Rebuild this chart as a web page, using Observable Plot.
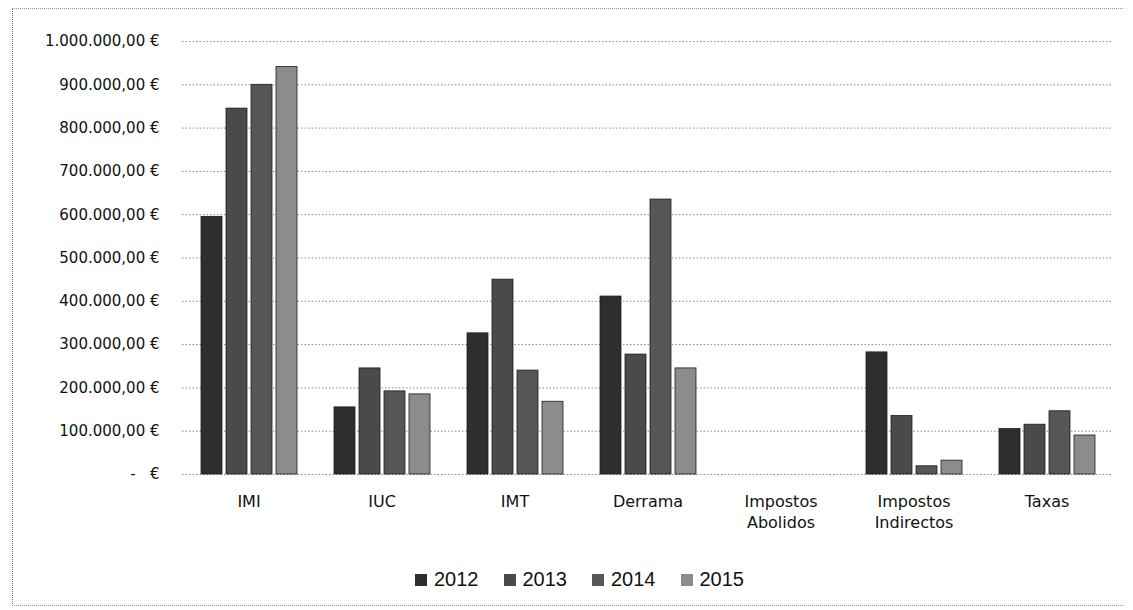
<!DOCTYPE html>
<html><head><meta charset="utf-8">
<script src="https://cdn.jsdelivr.net/npm/d3@7"></script>
<script src="https://cdn.jsdelivr.net/npm/@observablehq/plot@0.6"></script>
<style>
body{margin:0;background:#fff;width:1133px;height:610px;overflow:hidden;position:relative;}
#frame{position:absolute;left:12px;top:8px;width:1110px;height:596px;border-left:1px dotted #777;border-top:1px dotted #999;border-bottom:1px dotted #999;}
#chart{position:absolute;left:0;top:0;width:1133px;}
#legend{position:absolute;top:563px;left:415px;}
.lg-swatch{margin-right:25px !important;}
.lg-swatch > svg{margin-right:7px !important;}
</style></head><body>
<div id="frame"></div>
<div id="chart"></div>
<div id="legend"></div>
<script>
const categories = ["IMI", "IUC", "IMT", "Derrama", "Impostos Abolidos", "Impostos Indirectos", "Taxas"];
const years = ["2012", "2013", "2014", "2015"];
const v2012 = [595000, 155000, 326000, 411000, 0, 282000, 105000];
const v2013 = [845000, 245000, 450000, 277000, 0, 135000, 115000];
const v2014 = [900000, 192000, 240000, 635000, 0, 19000, 146000];
const v2015 = [941000, 185000, 168000, 245000, 0, 32000, 90000];
const yTicks = [0, 100000, 200000, 300000, 400000, 500000, 600000, 700000, 800000, 900000, 1000000];

const series = [v2012, v2013, v2014, v2015];
const colors = ["#2e2e2e", "#4a4a4a", "#565656", "#8c8c8c"];
const data = categories.flatMap((c, i) => years.map((y, j) => ({category: c, year: y, value: series[j][i]})));

const loc = d3.formatLocale({decimal: ",", thousands: ".", grouping: [3], currency: ["", " €"]});
const fmt = loc.format(",.2f");
const yFormat = d => d === 0 ? "-   €" : fmt(d) + " €";

const plot = Plot.plot({
  width: 1133, height: 545,
  marginTop: 41, marginBottom: 71, marginLeft: 180, marginRight: 18,
  style: {fontFamily: "DejaVu Sans", background: "transparent", color: "#111"},
  fx: {domain: categories, padding: 0, label: null, axis: null},
  x: {domain: years, paddingInner: 0.16, paddingOuter: 0.74, axis: null},
  y: {domain: [0, 1000000], label: null, axis: null},
  color: {domain: years, range: colors},
  marks: [
    Plot.ruleY(yTicks, {stroke: "#8a8a8a", strokeDasharray: "1.5,2", strokeWidth: 1}),
    Plot.barY(data, {fx: "category", x: "year", y: "value", fill: "year", stroke: "#1c1c1c", strokeWidth: 0.8}),
    Plot.axisY(yTicks, {tickSize: 0, tickPadding: 23, tickFormat: yFormat, fontSize: 15, label: null}),
    Plot.axisFx({anchor: "bottom", tickSize: 0, tickPadding: 18, tickFormat: d => d.replace(" ", "\n"), fontSize: 16, lineHeight: 1.3, label: null})
  ]
});
document.getElementById("chart").appendChild(plot);

const lg = plot.legend("color", {swatchSize: 12, className: "lg", style: {fontFamily: "Liberation Sans", fontSize: "20px", color: "#111"}});
document.getElementById("legend").appendChild(lg);
</script>
</body></html>
